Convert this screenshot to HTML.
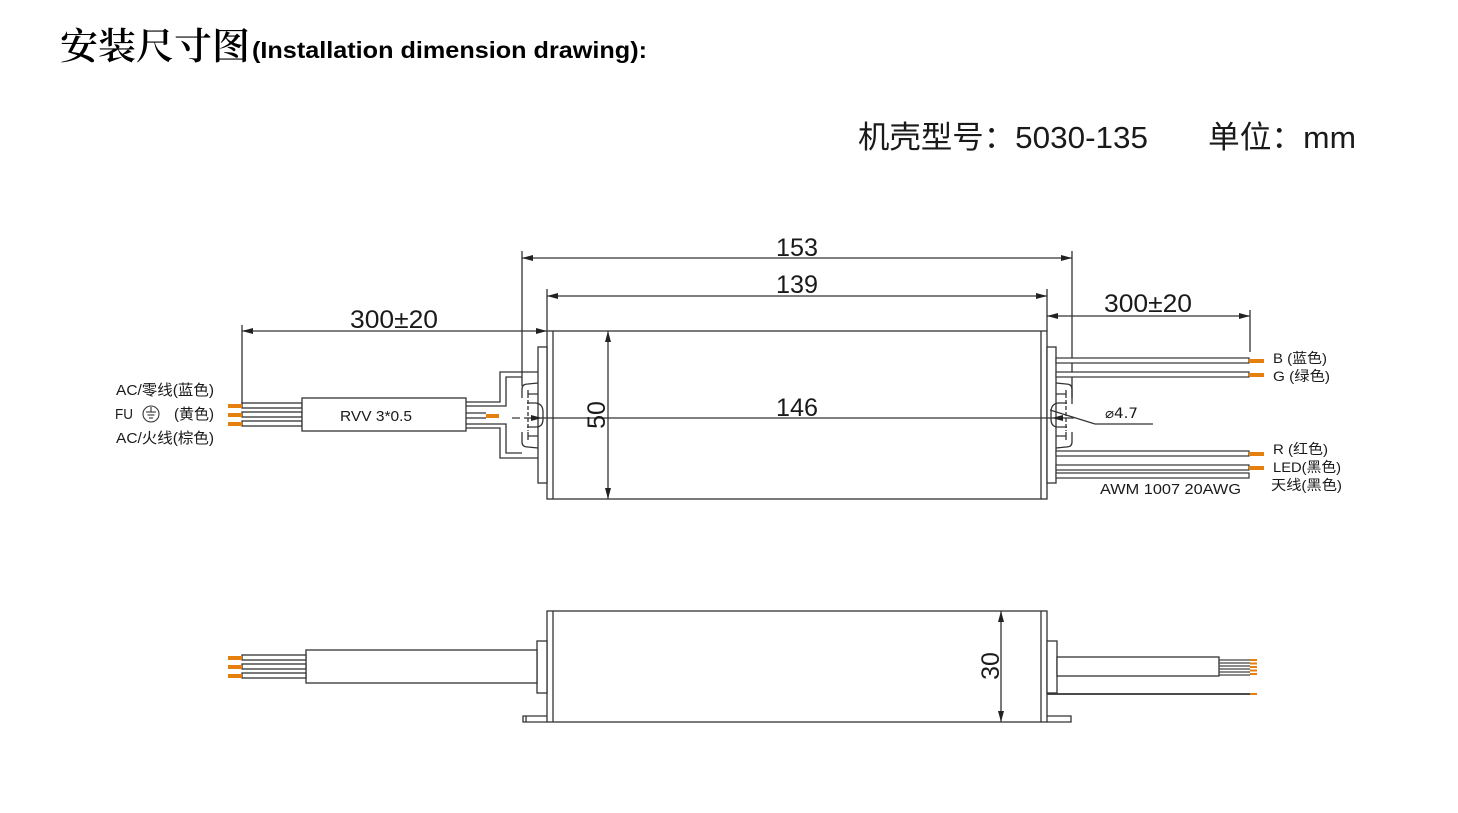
<!DOCTYPE html>
<html><head><meta charset="utf-8"><style>
html,body{margin:0;padding:0;background:#fff;}
svg{display:block;}
text{fill:#1a1a1a;}
.s{font-family:"Liberation Sans","Noto Sans CJK SC",sans-serif;}
</style></head><body>
<svg width="1458" height="813" viewBox="0 0 1458 813" xmlns="http://www.w3.org/2000/svg">
<defs>
<marker id="a" viewBox="0 0 11 6" refX="11" refY="3" markerWidth="11" markerHeight="6" markerUnits="userSpaceOnUse" orient="auto-start-reverse"><path d="M0,0 L11,3 L0,6 Z" fill="#222"/></marker>
<g id="capT" fill="none" stroke="#333" stroke-width="1.3">
  <rect x="538" y="347" width="9" height="136" fill="#fff"/>
  <path d="M522,398 L522,389 Q522,384 528,384 L538,383"/>
  <path d="M528,390 L528,398 M528,394 L538,394"/>
  <path d="M527,403 L536,403 Q543,404 543,412 L543,419 Q543,427 536,427 L527,427"/>
  <path d="M528,400 L528,431" stroke-dasharray="4,2"/>
  <path d="M522,432 L522,442 Q522,447 528,447 L538,448"/>
  <path d="M528,432 L528,440 M528,436 L538,436"/>
</g>
</defs>

<!-- Header -->
<text x="60" y="59" font-family="'Noto Serif CJK SC','Liberation Serif',serif" font-weight="600" font-size="37" textLength="190" lengthAdjust="spacingAndGlyphs" style="fill:#000">安装尺寸图</text>
<text x="252" y="58" font-family="'Liberation Sans',sans-serif" font-weight="bold" font-size="23" textLength="395" lengthAdjust="spacingAndGlyphs" style="fill:#000">(Installation dimension drawing):</text>
<text class="s" x="858" y="148" font-size="31" textLength="290" lengthAdjust="spacingAndGlyphs">机壳型号：5030-135</text>
<text class="s" x="1208" y="148" font-size="31" textLength="148" lengthAdjust="spacingAndGlyphs">单位：mm</text>

<!-- ===== TOP VIEW ===== -->
<g fill="none" stroke="#333" stroke-width="1.3">
  <line x1="522" y1="251" x2="522" y2="386"/>
  <line x1="1072" y1="251" x2="1072" y2="404"/>
  <line x1="522" y1="258" x2="1072" y2="258" marker-start="url(#a)" marker-end="url(#a)"/>
  <line x1="547" y1="289" x2="547" y2="331"/>
  <line x1="1047" y1="289" x2="1047" y2="331"/>
  <line x1="547" y1="296" x2="1047" y2="296" marker-start="url(#a)" marker-end="url(#a)"/>
  <line x1="242" y1="325" x2="242" y2="404"/>
  <line x1="242" y1="331" x2="547" y2="331" marker-start="url(#a)" marker-end="url(#a)"/>
  <line x1="1250" y1="310" x2="1250" y2="352"/>
  <line x1="1047" y1="316" x2="1250" y2="316" marker-start="url(#a)" marker-end="url(#a)"/>
</g>

<!-- body -->
<g fill="none" stroke="#333" stroke-width="1.3">
  <rect x="547" y="331" width="500" height="168" fill="#fff"/>
  <line x1="553" y1="331" x2="553" y2="499"/>
  <line x1="1041" y1="331" x2="1041" y2="499"/>
  <line x1="608" y1="331" x2="608" y2="499" marker-start="url(#a)" marker-end="url(#a)"/>
</g>

<!-- left cable + gland -->
<g fill="none" stroke="#333" stroke-width="1.3">
  <path d="M466,402 L500,402 L500,372 L538,372"/>
  <path d="M466,406 L506,406 L506,377 L522,377"/>
  <path d="M466,428 L500,428 L500,458 L538,458"/>
  <path d="M466,424 L506,424 L506,453 L522,453"/>
  <path d="M466,413 L486,413 M466,418 L486,418"/>
  <rect x="242" y="403" width="60" height="5" fill="#fff"/>
  <rect x="242" y="412" width="60" height="5" fill="#fff"/>
  <rect x="242" y="421" width="60" height="5" fill="#fff"/>
  <rect x="302" y="398" width="164" height="33" fill="#fff"/>
</g>
<g fill="#e5800e">
  <rect x="228" y="404" width="14" height="4"/>
  <rect x="228" y="413" width="14" height="4"/>
  <rect x="228" y="422" width="14" height="4"/>
  <rect x="486" y="414" width="13" height="4"/>
</g>
<use href="#capT"/>
<g transform="translate(1594,0) scale(-1,1)"><use href="#capT"/></g>

<!-- 146 centerline -->
<g fill="none" stroke="#333" stroke-width="1.2">
  <line x1="512" y1="418" x2="520" y2="418"/>
  <line x1="524" y1="418" x2="542" y2="418" marker-end="url(#a)"/>
  <line x1="542" y1="418" x2="1052" y2="418"/>
  <line x1="1074" y1="418" x2="1052" y2="418" marker-end="url(#a)"/>
  <path d="M1050,410 L1095,424 L1153,424"/>
</g>

<!-- right wires -->
<g fill="#fff" stroke="#333" stroke-width="1.2">
  <rect x="1056" y="358" width="193" height="5"/>
  <rect x="1056" y="372" width="193" height="5"/>
  <rect x="1056" y="451" width="193" height="5"/>
  <rect x="1056" y="465" width="193" height="5"/>
  <rect x="1056" y="473" width="193" height="5"/>
</g>
<g fill="#e5800e">
  <rect x="1249" y="359" width="15" height="4"/>
  <rect x="1249" y="373" width="15" height="4"/>
  <rect x="1249" y="452" width="15" height="4"/>
  <rect x="1249" y="466" width="15" height="4"/>
</g>

<!-- top-view text -->
<g font-family="'Liberation Sans',sans-serif" font-size="25">
  <text x="776" y="256" textLength="42" lengthAdjust="spacingAndGlyphs">153</text>
  <text x="776" y="293" textLength="42" lengthAdjust="spacingAndGlyphs">139</text>
  <text x="350" y="328" textLength="88" lengthAdjust="spacingAndGlyphs">300±20</text>
  <text x="1104" y="312" textLength="88" lengthAdjust="spacingAndGlyphs">300±20</text>
  <text x="776" y="416" textLength="42" lengthAdjust="spacingAndGlyphs">146</text>
  <text transform="translate(605,415) rotate(-90)" text-anchor="middle" x="0" y="0">50</text>
</g>
<g class="s" font-size="15">
  <text x="116" y="395" textLength="98" lengthAdjust="spacingAndGlyphs">AC/零线(蓝色)</text>
  <text x="115" y="419" textLength="18" lengthAdjust="spacingAndGlyphs">FU</text>
  <text x="174" y="419" textLength="40" lengthAdjust="spacingAndGlyphs">(黄色)</text>
  <text x="116" y="443" textLength="98" lengthAdjust="spacingAndGlyphs">AC/火线(棕色)</text>
  <text x="340" y="421" textLength="72" lengthAdjust="spacingAndGlyphs">RVV 3*0.5</text>
  <text x="1100" y="494" textLength="141" lengthAdjust="spacingAndGlyphs">AWM 1007 20AWG</text>
</g>
<g class="s" font-size="14">
  <text x="1273" y="363" textLength="54" lengthAdjust="spacingAndGlyphs">B (蓝色)</text>
  <text x="1273" y="381" textLength="57" lengthAdjust="spacingAndGlyphs">G (绿色)</text>
  <text x="1273" y="454" textLength="55" lengthAdjust="spacingAndGlyphs">R (红色)</text>
  <text x="1273" y="472" textLength="68" lengthAdjust="spacingAndGlyphs">LED(黑色)</text>
  <text x="1271" y="490" textLength="71" lengthAdjust="spacingAndGlyphs">天线(黑色)</text>
  <text x="1105" y="418" font-family="'DejaVu Sans','Liberation Sans',sans-serif" textLength="33" lengthAdjust="spacingAndGlyphs">⌀4.7</text>
</g>
<g fill="none" stroke="#333" stroke-width="1.1">
  <circle cx="151" cy="414" r="8"/>
  <line x1="151" y1="407" x2="151" y2="412"/>
  <line x1="146" y1="412" x2="156" y2="412"/>
  <line x1="147.5" y1="415" x2="154.5" y2="415"/>
  <line x1="149" y1="418" x2="153" y2="418"/>
</g>

<!-- ===== BOTTOM (SIDE) VIEW ===== -->
<g fill="none" stroke="#333" stroke-width="1.3">
  <rect x="547" y="611" width="500" height="111" fill="#fff"/>
  <line x1="553" y1="611" x2="553" y2="722"/>
  <line x1="1041" y1="611" x2="1041" y2="722"/>
  <rect x="537" y="641" width="10" height="52" fill="#fff"/>
  <rect x="1047" y="641" width="10" height="52" fill="#fff"/>
  <path d="M547,716 L523,716 L523,722 L547,722"/>
  <line x1="526" y1="716" x2="526" y2="722"/>
  <path d="M1047,716 L1071,716 L1071,722 L1047,722"/>
  <rect x="306" y="650" width="231" height="33" fill="#fff"/>
  <rect x="242" y="655" width="64" height="5" fill="#fff"/>
  <rect x="242" y="664" width="64" height="5" fill="#fff"/>
  <rect x="242" y="673" width="64" height="5" fill="#fff"/>
  <rect x="1057" y="657" width="162" height="19" fill="#fff"/>
  <line x1="1001" y1="611" x2="1001" y2="722" marker-start="url(#a)" marker-end="url(#a)"/>
</g>
<g stroke="#444" stroke-width="1.2">
  <line x1="1219" y1="660" x2="1250" y2="660"/>
  <line x1="1219" y1="663" x2="1250" y2="663"/>
  <line x1="1219" y1="666" x2="1250" y2="666"/>
  <line x1="1219" y1="669" x2="1250" y2="669"/>
  <line x1="1219" y1="672" x2="1250" y2="672"/>
  <line x1="1219" y1="675" x2="1250" y2="675"/>
  <line x1="1047" y1="694" x2="1250" y2="694" stroke-width="1.8" stroke="#333"/>
</g>
<g fill="#e5800e">
  <rect x="228" y="656" width="14" height="4"/>
  <rect x="228" y="665" width="14" height="4"/>
  <rect x="228" y="674" width="14" height="4"/>
  <rect x="1250" y="659" width="7" height="2"/>
  <rect x="1250" y="662.5" width="7" height="2"/>
  <rect x="1250" y="666" width="7" height="2"/>
  <rect x="1250" y="669.5" width="7" height="2"/>
  <rect x="1250" y="673" width="7" height="2"/>
  <rect x="1250" y="693" width="7" height="2"/>
</g>
<text transform="translate(999,666) rotate(-90)" text-anchor="middle" font-family="'Liberation Sans',sans-serif" font-size="25">30</text>
</svg>
</body></html>
